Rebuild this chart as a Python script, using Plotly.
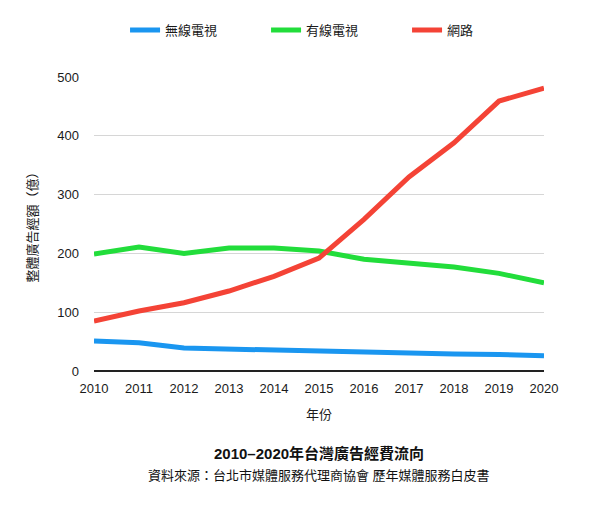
import plotly.graph_objects as go

years = [2010, 2011, 2012, 2013, 2014, 2015, 2016, 2017, 2018, 2019, 2020]
wireless_tv = [51, 48, 39, 37, 36, 35, 33, 30, 29, 28, 26]
cable_tv = [199, 211, 200, 209, 209, 204, 190, 183, 177, 166, 150]
internet = [85, 102, 116, 136, 161, 192, 258, 330, 388, 459, 481]
series_names = ["無線電視", "有線電視", "網路"]
colors = ["#1a96f0", "#22dd3b", "#f44336"]

FONT = "Liberation Sans, Noto Sans CJK TC, sans-serif"

fig = go.Figure()
for name, vals, c in zip(series_names, [wireless_tv, cable_tv, internet], colors):
    fig.add_trace(go.Scatter(x=years, y=vals, mode="lines", name=name,
                             line=dict(color=c, width=5)))

fig.update_layout(
    width=614, height=505,
    margin=dict(l=94, r=70, t=77, b=134, autoexpand=False),
    paper_bgcolor="white", plot_bgcolor="white",
    font=dict(family=FONT, size=13, color="#1a1a1a"),
    legend=dict(orientation="h", x=0.539, xanchor="center", y=0.97, yanchor="top",
                yref="container", entrywidth=96, entrywidthmode="pixels",
                itemwidth=30, font=dict(size=13)),
    showlegend=True,
    xaxis=dict(range=[2010, 2020], tickmode="array", tickvals=years,
               ticktext=[str(y) for y in years], showgrid=False, zeroline=False,
               showline=False, ticks="", tickfont=dict(size=13), ticklabelstandoff=8,
               title=dict(text="年份", font=dict(size=13), standoff=14)),
    yaxis=dict(range=[0, 500], tickvals=[0, 100, 200, 300, 400, 500],
               showgrid=True, gridcolor="#d6d6d6", gridwidth=1,
               zeroline=True, zerolinecolor="#222", zerolinewidth=1.5,
               ticks="", ticklen=0, tickfont=dict(size=13), ticklabelstandoff=14,
               title=dict(text="整體廣告經額（億）", font=dict(size=13), standoff=16)),
)

fig.add_annotation(text="<b>2010–2020年台灣廣告經費流向</b>", xref="paper", yref="paper",
                   x=0.5, y=-0.28, yanchor="middle", showarrow=False,
                   font=dict(size=15, color="#111", family=FONT))
fig.add_annotation(text="資料來源：台北市媒體服務代理商協會 歷年媒體服務白皮書", xref="paper", yref="paper",
                   x=0.5, y=-0.355, yanchor="middle", showarrow=False,
                   font=dict(size=13, color="#111", family=FONT))

fig.write_html("out.html", config={"displayModeBar": False},
               post_script="document.body.style.margin='0';")
